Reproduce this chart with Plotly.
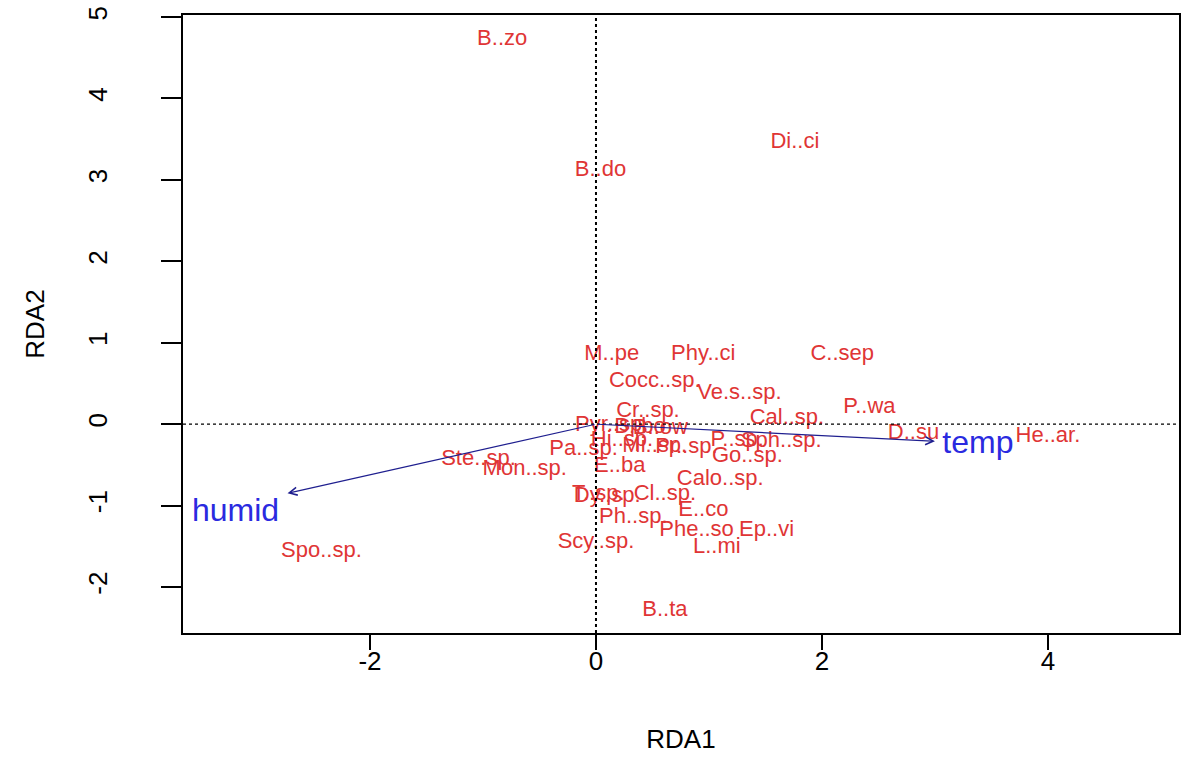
import plotly.graph_objects as go

# species scores (RDA1, RDA2)
species = ["B..zo", "Di..ci", "B..do", "M..pe", "Phy..ci", "C..sep", "Cocc..sp.", "Ve.s..sp.",
           "Cr..sp.", "Cal..sp.", "P..wa", "D..su", "He..ar.", "Pyr..sp.", "B..bo", "B..ow",
           "Hi..sp.", "Pa..sp.", "Mi..sp.", "Pr..sp.", "P..sp.", "Sph..sp.", "Go..sp.",
           "Ste..sp.", "Mon..sp.", "E..ba", "Calo..sp.", "T..sp.", "Dy..sp.", "Cl..sp.",
           "E..co", "Ph..sp.", "Phe..so", "Ep..vi", "Scy..sp.", "L..mi", "Spo..sp.", "B..ta"]
rda1 = [-0.83, 1.76, 0.04, 0.14, 0.95, 2.18, 0.52, 1.27,
        0.46, 1.69, 2.42, 2.81, 4.00, 0.14, 0.39, 0.57,
        0.23, -0.11, 0.52, 0.80, 1.25, 1.64, 1.34,
        -1.04, -0.63, 0.21, 1.10, 0.02, 0.10, 0.61,
        0.95, 0.33, 0.89, 1.51, 0.00, 1.07, -2.43, 0.61]
rda2 = [4.72, 3.46, 3.11, 0.85, 0.86, 0.86, 0.53, 0.38,
        0.15, 0.07, 0.20, -0.11, -0.15, -0.02, -0.04, -0.05,
        -0.20, -0.31, -0.28, -0.29, -0.20, -0.21, -0.40,
        -0.43, -0.56, -0.52, -0.68, -0.87, -0.89, -0.87,
        -1.06, -1.15, -1.30, -1.30, -1.45, -1.51, -1.57, -2.29]

# environmental vectors
env = ["humid", "temp"]
env_x = [-2.73, 3.00]
env_y = [-0.85, -0.21]
env_lab_x = [-3.19, 3.38]
env_lab_y = [-1.09, -0.26]

x_ticks = [-2, 0, 2, 4]
y_ticks = [-2, -1, 0, 1, 2, 3, 4, 5]
x_range = [-3.655, 5.16]
y_range = [-2.565, 5.025]

AX_FONT = "Liberation Sans, Arial, sans-serif"
TXT_FONT = "Liberation Sans, Arial, sans-serif"

fig = go.Figure()

fig.add_trace(go.Scatter(
    x=rda1, y=rda2, mode="text", text=species,
    textposition="middle center",
    textfont=dict(family=TXT_FONT, size=22, color="#e03535"),
    hoverinfo="text", showlegend=False))

fig.add_trace(go.Scatter(
    x=env_lab_x, y=env_lab_y, mode="text", text=env,
    textposition="middle center",
    textfont=dict(family=TXT_FONT, size=32, color="#2a2ae0"),
    showlegend=False))

# reference lines through origin
fig.add_shape(type="line", x0=0, x1=0, y0=y_range[0], y1=y_range[1], xref="x", yref="y",
              line=dict(color="black", width=2, dash="dot"))
fig.add_shape(type="line", x0=x_range[0], x1=x_range[1], y0=0, y1=0, xref="x", yref="y",
              line=dict(color="black", width=1.3, dash="dot"))

for ex, ey in zip(env_x, env_y):
    fig.add_annotation(x=ex, y=ey, ax=0, ay=0, xref="x", yref="y", axref="x", ayref="y",
                       text="", showarrow=True, arrowhead=5, arrowsize=1.3, arrowwidth=1.2,
                       arrowcolor="#1f1f8f")

fig.update_layout(
    width=1185, height=763,
    margin=dict(l=183, r=6, t=15, b=130, autoexpand=False),
    paper_bgcolor="white", plot_bgcolor="white",
    showlegend=False,
)
fig.update_xaxes(
    range=x_range, tickvals=x_ticks, ticktext=[str(v) for v in x_ticks],
    showgrid=False, zeroline=False, showline=True, mirror=True, automargin=False,
    linecolor="black", linewidth=1.5, ticks="outside", ticklen=15, tickwidth=1.5,
    tickcolor="black", tickfont=dict(family=AX_FONT, size=26, color="black"),
    ticklabelstandoff=-11,
    title=dict(text="RDA1", font=dict(family=AX_FONT, size=26, color="black"), standoff=55),
)
fig.update_yaxes(
    range=y_range, tickvals=y_ticks, ticktext=[str(v) for v in y_ticks],
    showgrid=False, zeroline=False, showline=True, mirror=True, automargin=False,
    linecolor="black", linewidth=1.5, ticks="outside", ticklen=20, tickwidth=1.5,
    tickcolor="black", tickangle=-90, tickfont=dict(family=AX_FONT, size=26, color="black"),
    ticklabelstandoff=44,
    title=dict(text="RDA2", font=dict(family=AX_FONT, size=26, color="black"), standoff=31),
)

fig.write_html("out.html", config={"displayModeBar": False},
               post_script="document.body.style.margin='0';document.body.style.overflow='hidden';")
